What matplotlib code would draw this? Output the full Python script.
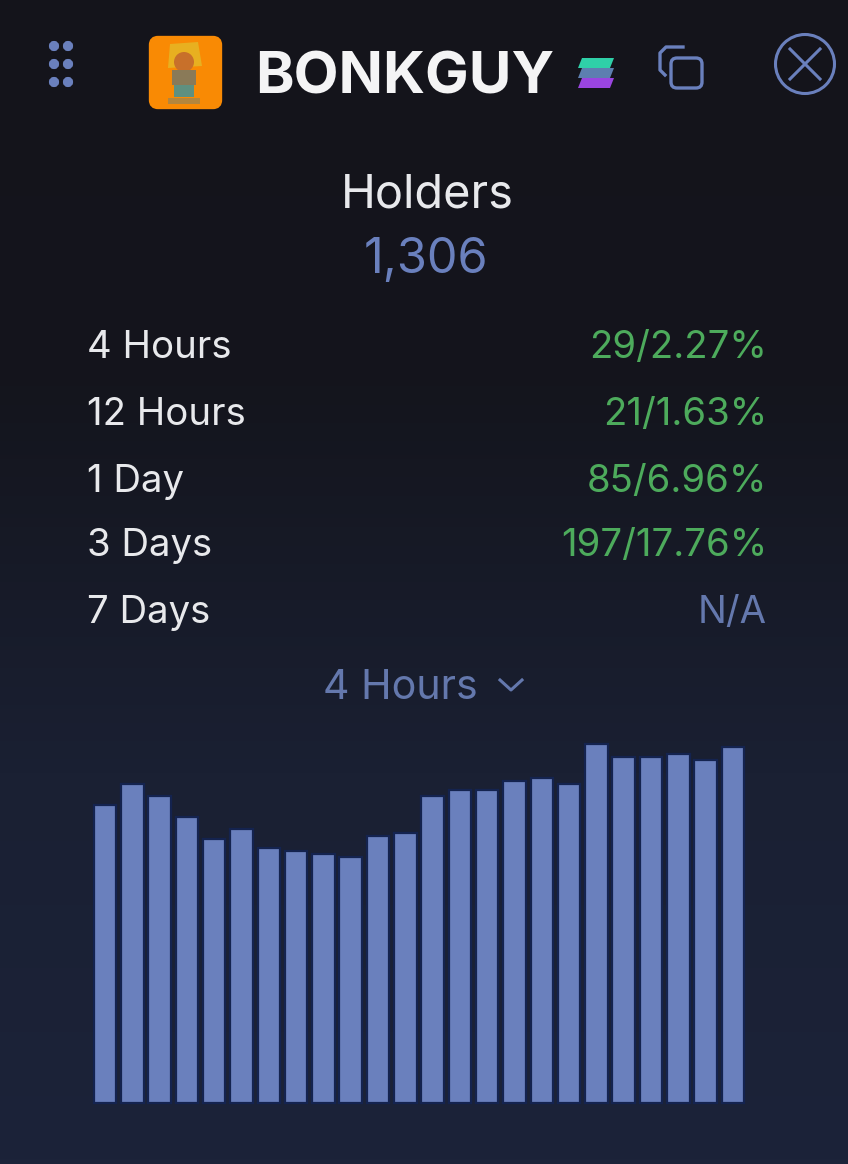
import numpy as np
import matplotlib
matplotlib.use("Agg")
import matplotlib.pyplot as plt
from matplotlib.colors import LinearSegmentedColormap
from matplotlib.patches import Circle, FancyBboxPatch, Polygon, Rectangle

plt.rcParams["font.family"] = ["Inter", "DejaVu Sans"]

# bar heights (no axis in the original, pixel units)
bar_values = [298, 319, 307, 286, 264, 274, 255, 252, 249, 246, 267, 270,
              307, 313, 313, 322, 325, 319, 359, 346, 346, 349, 343, 356]
periods = ["4 Hours", "12 Hours", "1 Day", "3 Days", "7 Days"]
changes = ["29/2.27%", "21/1.63%", "85/6.96%", "197/17.76%", "N/A"]
title = "BONKGUY"
metric = "Holders"
holder_count = "1,306"
selected_period = "4 Hours"

WHITE = "#e8e9ec"
BLUE = "#6a80bd"
GREEN = "#4dab5c"
DIM = "#6478ad"

W, H = 848, 1164
fig = plt.figure(figsize=(W / 100, H / 100), dpi=100)

# full-figure overlay in pixel coordinates for background, icons and text
ui = fig.add_axes([0, 0, 1, 1])
bg = LinearSegmentedColormap.from_list("bg", ["#14141b", "#14151d", "#1a2033", "#1c2339"])
ui.imshow(np.linspace(0, 1, 256)[:, None], cmap=bg, extent=(0, W, H, 0), aspect="auto", zorder=0)
ui.set_xlim(0, W)
ui.set_ylim(H, 0)
ui.axis("off")

# grip dots
for x in (54, 68):
    for y in (46, 64, 82):
        ui.add_patch(FancyBboxPatch((x - 3, y - 3), 6, 6, boxstyle="round,pad=0,rounding_size=3",
                                    lw=3, ec=BLUE, fc=BLUE, zorder=2))

# token logo
ui.add_patch(FancyBboxPatch((153, 40), 65, 65, boxstyle="round,pad=0,rounding_size=5", lw=6,
                            ec="#f98a04", fc="#f98a04", zorder=2))
ui.add_patch(Polygon([(170, 44), (198, 42), (202, 66), (168, 68)], color="#e8b020", lw=0, zorder=3))
ui.add_patch(Circle((184, 62), 10, color="#c8702a", lw=0, zorder=3))
ui.add_patch(Rectangle((172, 70), 24, 15, color="#8a7a58", lw=0, zorder=3))
ui.add_patch(Rectangle((174, 85), 20, 12, color="#5f9080", lw=0, zorder=3))
ui.add_patch(Rectangle((168, 98), 32, 6, color="#b5863c", lw=0, zorder=3))

ui.text(255, 78, title, color="#f4f4f5", fontsize=42, fontweight="bold",
        va="center", ha="left", zorder=3)

# solana mark
for y, col in zip((63, 73, 83), ("#2fd0a8", "#5d7fb0", "#9a45e0")):
    ui.add_patch(Polygon([(582, y - 5), (614, y - 5), (610, y + 5), (578, y + 5)],
                         closed=True, color=col, lw=0, zorder=3))

# copy icon
ui.add_patch(FancyBboxPatch((671, 58), 31, 30, boxstyle="round,pad=0,rounding_size=6",
                            fc="none", ec=BLUE, lw=2.4, zorder=3))
ui.plot([665, 660, 660, 666, 683], [75, 70, 53, 47, 47], color=BLUE, lw=2.4, zorder=3)

# close icon
ui.add_patch(Circle((805, 64), 29.5, fc="none", ec=BLUE, lw=2.2, zorder=3))
ui.plot([790, 820], [49, 79], color=BLUE, lw=2.2, zorder=3)
ui.plot([790, 820], [79, 49], color=BLUE, lw=2.2, zorder=3)

ui.text(427, 196, metric, color=WHITE, fontsize=33.8, ha="center", va="center", zorder=3)
ui.text(426, 260, holder_count, color=BLUE, fontsize=35, ha="center", va="center", zorder=3)

row_y = [348, 415, 482, 546, 613]
for y, period, change in zip(row_y, periods, changes):
    ui.text(87, y, period, color=WHITE, fontsize=27.6, ha="left", va="center", zorder=3)
    col = DIM if change == "N/A" else GREEN
    ui.text(767, y, change, color=col, fontsize=27.6, ha="right", va="center", zorder=3)

ui.text(400, 688, selected_period, color=DIM, fontsize=29.6, ha="center", va="center", zorder=3)
ui.plot([500, 511, 522], [680, 690, 680], color=DIM, lw=2.2, zorder=3)

# bar chart, one unit = one pixel so the values stay in picture scale
ax = fig.add_axes([0, 0, 1, 1], facecolor="none")
ax.set_xlim(0, W)
ax.set_ylim(-(H - 1103), 1103)
ax.axis("off")
x_pos = 105 + 27.3 * np.arange(len(bar_values))
ax.bar(x_pos, bar_values, width=22.5, color=BLUE, edgecolor="#14234f", linewidth=1.6)

fig.savefig("out.png", dpi=100, facecolor="#14141b")
